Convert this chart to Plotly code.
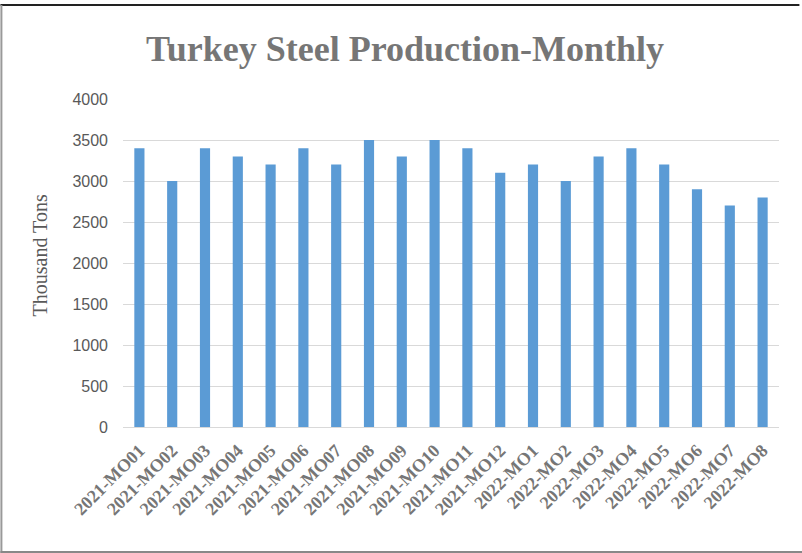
import plotly.graph_objects as go

categories = ["2021-MO01", "2021-MO02", "2021-MO03", "2021-MO04", "2021-MO05", "2021-MO06",
              "2021-MO07", "2021-MO08", "2021-MO09", "2021-MO10", "2021-MO11", "2021-MO12",
              "2022-MO1", "2022-MO2", "2022-MO3", "2022-MO4", "2022-MO5", "2022-MO6",
              "2022-MO7", "2022-MO8"]
production = [3400, 3000, 3400, 3300, 3200, 3400, 3200, 3500, 3300, 3500, 3400, 3100,
              3200, 3000, 3300, 3400, 3200, 2900, 2700, 2800]
y_ticks = [0, 500, 1000, 1500, 2000, 2500, 3000, 3500, 4000]

fig = go.Figure(go.Bar(x=categories, y=production, marker_color="#5B9BD5",
                       marker_line_width=0))

W, H = 802, 553
L, R, T, B = 122.6, 23.4, 99, 126
pw, ph = W - L - R, H - T - B

def px_x(x):
    return (x - L) / pw

def px_y(y):
    return (H - B - y) / ph

fig.update_layout(
    width=W, height=H,
    margin=dict(l=L, r=R, t=T, b=B, autoexpand=False),
    paper_bgcolor="white", plot_bgcolor="white",
    bargap=0.69,
    showlegend=False,
    title=dict(text="<b>Turkey Steel Production-Monthly</b>",
               font=dict(family="Liberation Serif", size=36, color="#767676"),
               x=405 / W, xanchor="center", y=1 - 48 / H, yanchor="middle"),
    xaxis=dict(tickangle=-45, tickvals=categories,
               ticktext=["<b>" + c + "</b>" for c in categories],
               tickfont=dict(family="Liberation Serif", size=18, color="#767676"),
               ticklabelstandoff=5,
               showgrid=False, showline=True, linecolor="#d9d9d9", linewidth=1, ticks=""),
    yaxis=dict(range=[0, 4000], tickvals=y_ticks, showgrid=True, gridcolor="#d9d9d9",
               zeroline=False, showline=False, ticks="", ticklen=0, ticklabelstandoff=14,
               tickfont=dict(family="Liberation Sans", size=16, color="#595959")),
    annotations=[
        dict(text="Thousand Tons", xref="paper", yref="paper", x=px_x(40), y=px_y(255),
             xanchor="center", yanchor="middle", textangle=-90, showarrow=False,
             font=dict(family="Liberation Serif", size=20, color="#595959")),
    ],
    shapes=[
        dict(type="line", xref="paper", yref="paper", x0=px_x(0), x1=px_x(799), y0=px_y(5), y1=px_y(5),
             line=dict(color="#222222", width=2)),
        dict(type="line", xref="paper", yref="paper", x0=px_x(1), x1=px_x(1), y0=px_y(5), y1=px_y(553),
             line=dict(color="#999999", width=2)),
        dict(type="line", xref="paper", yref="paper", x0=px_x(0), x1=px_x(802), y0=px_y(552), y1=px_y(552),
             line=dict(color="#888888", width=2)),
    ],
)

fig.write_html("out.html", config={"displayModeBar": False},
               post_script="document.body.style.margin='0';document.body.style.overflow='hidden';")
